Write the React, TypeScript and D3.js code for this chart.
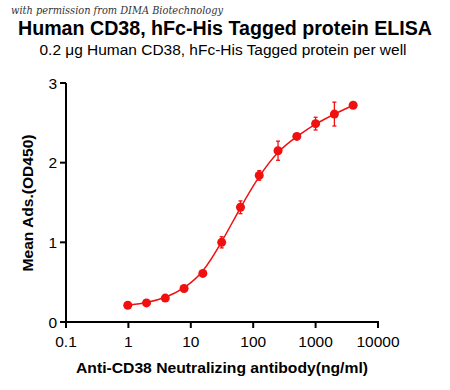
import * as d3 from 'd3';

const concentrations = [0.977, 1.95, 3.9, 7.8, 15.6, 31.25, 62.5, 125, 250, 500, 1000, 2000, 4000];
const meanOD = [0.21, 0.24, 0.3, 0.42, 0.61, 1.0, 1.44, 1.84, 2.15, 2.33, 2.49, 2.61, 2.72];
const errOD = [0.02, 0.02, 0.02, 0.02, 0.03, 0.07, 0.08, 0.06, 0.12, 0.03, 0.08, 0.15, 0.02];
const xTicks = [0.1, 1, 10, 100, 1000, 10000];
const yTicks = [0, 1, 2, 3];

const width = 450;
const height = 390;
const margin = { top: 83, right: 72, bottom: 68, left: 66 };
const red = '#f01010';

export default function App() {
  const innerW = width - margin.left - margin.right;
  const innerH = height - margin.top - margin.bottom;

  const x = d3.scaleLog().domain([0.1, 10000]).range([0, innerW]);
  const y = d3.scaleLinear().domain([0, 3]).range([innerH, 0]);

  const points = concentrations.map((c, i) => ({ c, v: meanOD[i], e: errOD[i] }));

  const line = d3.line<{ c: number; v: number }>()
    .x(d => x(d.c))
    .y(d => y(d.v))
    .curve(d3.curveBasis);

  const font = 'Arial, "Liberation Sans", sans-serif';

  return (
    <svg width={width} height={height} style={{ position: 'absolute', left: 0, top: 0 }}>
      <rect width={width} height={height} fill="#fff" />
      <text x={11} y={14} fontFamily='"DejaVu Serif", serif' fontStyle="italic" fontSize={10.5} fill="#333"
        textLength={212} lengthAdjust="spacingAndGlyphs">
        with permission from DIMA Biotechnology
      </text>
      <text x={225} y={35} textAnchor="middle" fontFamily={font} fontWeight="bold" fontSize={19.5}
        textLength={414} lengthAdjust="spacingAndGlyphs">
        Human CD38, hFc-His Tagged protein ELISA
      </text>
      <text x={223} y={55} textAnchor="middle" fontFamily={font} fontSize={15.5}
        textLength={367} lengthAdjust="spacingAndGlyphs">
        0.2 μg Human CD38, hFc-His Tagged protein per well
      </text>
      <g transform={`translate(${margin.left},${margin.top})`}>
        {/* y axis */}
        <line x1={0} x2={0} y1={0} y2={innerH + 1} stroke="#000" strokeWidth={2} />
        {yTicks.map(t => (
          <g key={t} transform={`translate(0,${y(t)})`}>
            <line x1={-6} x2={0} stroke="#000" strokeWidth={2} />
            <text x={-9} dy="0.36em" textAnchor="end" fontFamily={font} fontSize={15.5}>{t}</text>
          </g>
        ))}
        {/* x axis */}
        <line x1={-1} x2={innerW + 1} y1={innerH} y2={innerH} stroke="#000" strokeWidth={2} />
        {xTicks.map(t => (
          <g key={t} transform={`translate(${x(t)},${innerH})`}>
            <line y1={0} y2={6} stroke="#000" strokeWidth={2} />
            <text y={25} textAnchor="middle" fontFamily={font} fontSize={15.5}>{t}</text>
          </g>
        ))}
        {/* fit curve */}
        <path d={line(points) ?? ''} fill="none" stroke={red} strokeWidth={1.5} />
        {/* error bars */}
        {points.map((p, i) => (
          <g key={`e${i}`} stroke={red} strokeWidth={1.3}>
            <line x1={x(p.c)} x2={x(p.c)} y1={y(p.v + p.e)} y2={y(p.v - p.e)} />
            <line x1={x(p.c) - 2} x2={x(p.c) + 2} y1={y(p.v + p.e)} y2={y(p.v + p.e)} />
            <line x1={x(p.c) - 2} x2={x(p.c) + 2} y1={y(p.v - p.e)} y2={y(p.v - p.e)} />
          </g>
        ))}
        {points.map((p, i) => (
          <circle key={`p${i}`} cx={x(p.c)} cy={y(p.v)} r={4.5} fill={red} />
        ))}
      </g>
      <text transform="translate(33,203) rotate(-90)" textAnchor="middle" fontFamily={font} fontWeight="bold" fontSize={15.5}
        textLength={137} lengthAdjust="spacingAndGlyphs">
        Mean Ads.(OD450)
      </text>
      <text x={222} y={373} textAnchor="middle" fontFamily={font} fontWeight="bold" fontSize={15.5}
        textLength={292} lengthAdjust="spacingAndGlyphs">
        Anti-CD38 Neutralizing antibody(ng/ml)
      </text>
    </svg>
  );
}
